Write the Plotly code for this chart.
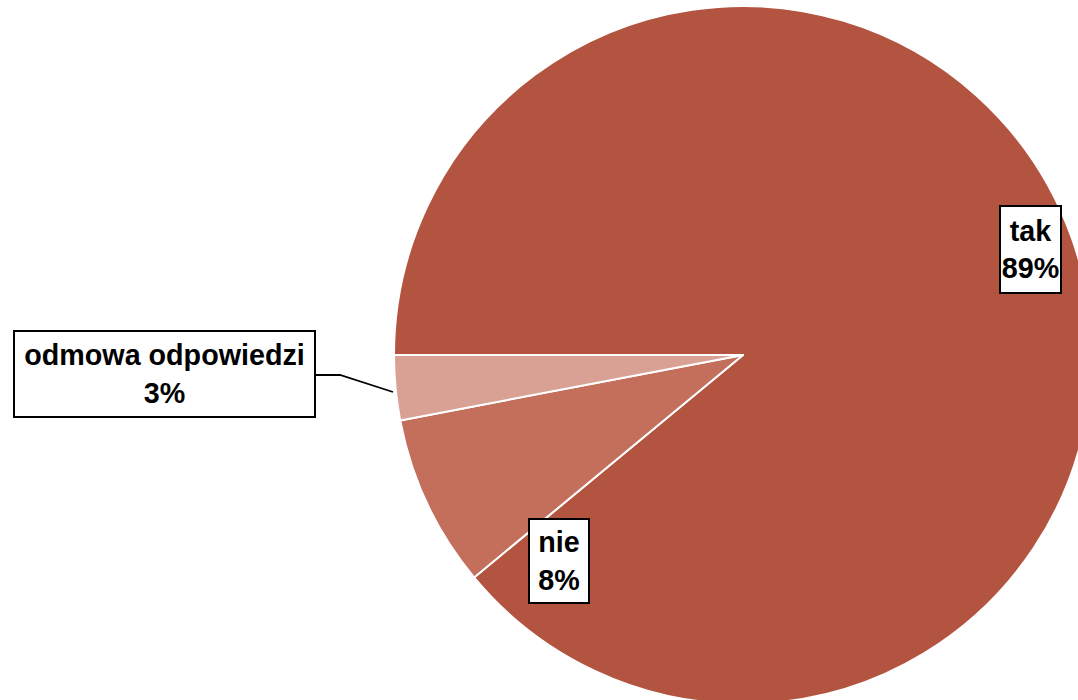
import plotly.graph_objects as go

# Survey answers and their shares (%)
labels = ["tak", "nie", "odmowa odpowiedzi"]
values = [89, 8, 3]
colors = ["#B35441", "#C46E5C", "#D9A094"]

# Canvas is a bit larger than the viewport so the pie runs off the right/bottom edge
W, H = 1100, 712


def px(x):
    return x / W


def py(y):
    return 1 - y / H


fig = go.Figure(
    go.Pie(
        labels=labels,
        values=values,
        sort=False,
        direction="clockwise",
        rotation=270,
        marker=dict(colors=colors, line=dict(color="white", width=2)),
        textinfo="none",
        hoverinfo="label+percent",
        showlegend=False,
        domain=dict(x=[px(394), px(1092)], y=[py(704), py(6)]),
    )
)

# Boxed data labels: (centre x, centre y, outer box width, outer box height) in pixels
label_boxes = {
    "tak": (1030.5, 249.5, 63, 89),
    "nie": (559, 561, 62, 86),
    "odmowa odpowiedzi": (164.5, 374, 303, 88),
}
BORDER = 2

total = sum(values)
for lab, val in zip(labels, values):
    cx, cy, bw, bh = label_boxes[lab]
    fig.add_annotation(
        x=px(cx), y=py(cy), xref="paper", yref="paper",
        xanchor="center", yanchor="middle",
        text=f"<b>{lab}<br>{round(100 * val / total)}%</b>",
        showarrow=False,
        width=bw - 2 * BORDER, height=bh - 2 * BORDER,
        align="center", valign="middle",
        bgcolor="white", bordercolor="black", borderwidth=BORDER, borderpad=0,
        font=dict(family="Liberation Sans, Arial, sans-serif", size=28.7, color="black"),
    )

# Leader line from the small slice's label to the slice
pts = [(316, 375), (340, 375), (393, 392)]
path = "M " + " L ".join(f"{px(x)},{py(y)}" for x, y in pts)
fig.add_shape(type="path", path=path, xref="paper", yref="paper",
              line=dict(color="black", width=1.8))

fig.update_layout(
    width=W, height=H,
    margin=dict(l=0, r=0, t=0, b=0),
    paper_bgcolor="white",
    plot_bgcolor="white",
)

fig.write_html(
    "out.html",
    post_script=(
        "document.body.style.margin='0';"
        "document.body.style.overflow='hidden';"
        "document.documentElement.style.overflow='hidden';"
    ),
)
